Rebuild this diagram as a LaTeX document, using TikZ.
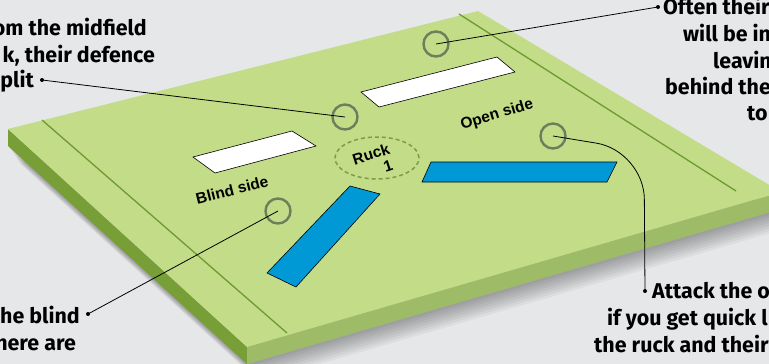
\documentclass[tikz,border=0pt]{standalone}
\usepackage{fontspec}
\setmainfont{Fira Sans}
\newfontfamily\lblfont{Liberation Sans}
\usetikzlibrary{shapes.geometric,calc}
\definecolor{bgc}{HTML}{E6E7E9}
\definecolor{topc}{HTML}{C2DC88}
\definecolor{sidel}{HTML}{789E38}
\definecolor{sidef}{HTML}{9EBB68}
\definecolor{lineg}{HTML}{6F9A30}
\definecolor{dashg}{HTML}{7E9C48}
\definecolor{circg}{HTML}{6B7F5C}
\definecolor{bluec}{HTML}{0099D6}
\tikzset{
  txt/.style={font=\fontsize{21.4}{26}\selectfont\bfseries, inner sep=0pt, text=black},
  lbl/.style={font=\lblfont\fontsize{15.5}{17}\selectfont\bfseries, inner sep=0pt, text=black},
  spotc/.style={circle, draw=circg, line width=2.4pt, minimum size=25pt, inner sep=0pt},
  dotn/.style={circle, fill=black, minimum size=4pt, inner sep=0pt},
  conn/.style={draw=black, line width=0.8pt},
  whitebar/.style={fill=white, draw=black, line width=0.6pt},
  bluebar/.style={fill=bluec, draw=black, line width=0.6pt},
}
\begin{document}
\begin{tikzpicture}[x=1pt,y=-1pt]
\useasboundingbox (0,0) rectangle (769,364);
\fill[bgc] (0,0) rectangle (769,364);
\begin{scope}
\clip (0,0) rectangle (769,364);
\coordinate (L) at (8,129);
\coordinate (T) at (478,11);
\coordinate (R) at (781,192);
\coordinate (B) at (247,347);
% shadow
\foreach \i in {1,...,8}{
  \fill[black,opacity=0.045] ($(L)+(1.5*\i,17+2.2*\i)$) -- ($(B)+(1.5*\i,17+2.2*\i)$) -- ($(R)+(1.5*\i,17+2.2*\i)$) -- ($(T)+(1.5*\i,2*\i)$) -- cycle;
}
% faces
\fill[sidel] (L) -- (B) -- ($(B)+(0,17)$) -- ($(L)+(0,17)$) -- cycle;
\fill[sidef] (B) -- (R) -- ($(R)+(0,17)$) -- ($(B)+(0,17)$) -- cycle;
\fill[topc] (L) -- (T) -- (R) -- (B) -- cycle;
% sidelines
\draw[lineg, line width=1.3pt] (42,120) -- (287,333);
\draw[lineg, line width=1.3pt] (459,14) -- (736,191);
% bars
\draw[whitebar] (361,92) -- (497,57) -- (515,72) -- (379,107) -- cycle;
\draw[whitebar] (193,157) -- (292,131) -- (316,146) -- (215,173) -- cycle;
\draw[bluebar] (431,162) -- (617,162) -- (607,182) -- (422,182) -- cycle;
\draw[bluebar] (350,186) -- (380,194) -- (296,287) -- (267,273) -- cycle;
% ruck
\draw[dashg, line width=1.5pt, dash pattern=on 4pt off 3pt] (377,158) ellipse [x radius=42pt, y radius=21pt];
\node[lbl, rotate=18] (rucklbl) at (371,154) {Ruck};
\node[lbl, rotate=18] (ruckno) at (388,166) {1};
\node[lbl, rotate=14] (blind) at (232,190) {Blind side};
\node[lbl, rotate=17] (open) at (497,115) {Open side};
% circles
\node[spotc] (c1) at (436,44) {};
\node[spotc] (c2) at (345,117) {};
\node[spotc] (c3) at (278,211) {};
\node[spotc] (c4) at (553,136) {};
% dots
\node[dotn] (d1) at (42,80) {};
\node[dotn] (d2) at (658,7) {};
\node[dotn] (d3) at (88,314) {};
\node[dotn] (d4) at (645,291) {};
% connectors
\draw[conn] (c2.center) -- (d1.center);
\draw[conn] (c1.center) -- (d2.center);
\draw[conn] (c3.center) -- (d3.center);
\draw[conn, rounded corners=48pt] (c4.center) -- (644,151) -- (d4.center);
% texts top-left
\node[txt, anchor=base east] (t1a) at (147,35) {om the midfield};
\node[txt, anchor=base east] (t1b) at (155,62) {k, their defence};
\node[txt, anchor=base east] (t1c) at (34,87) {plit};
% texts top-right
\node[txt, anchor=base west] (t2a) at (663,15) {Often their};
\node[txt, anchor=base west] (t2b) at (683,41) {will be in};
\node[txt, anchor=base west] (t2c) at (713,68) {leavin};
\node[txt, anchor=base west] (t2d) at (665,94) {behind the};
\node[txt, anchor=base west] (t2e) at (747,120) {to};
% texts bottom-left
\node[txt, anchor=base east] (t3a) at (80,323) {the blind};
\node[txt, anchor=base east] (t3b) at (76,350) {here are};
% texts bottom-right
\node[txt, anchor=base west] (t4a) at (652,298) {Attack the o};
\node[txt, anchor=base west] (t4b) at (607,325) {if you get quick l};
\node[txt, anchor=base west] (t4c) at (594,352) {the ruck and their};
\end{scope}
\end{tikzpicture}
\end{document}
